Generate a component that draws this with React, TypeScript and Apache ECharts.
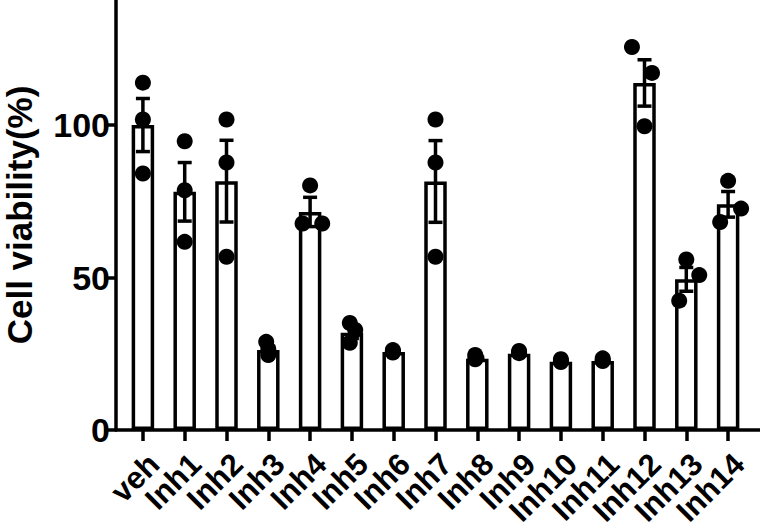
import React, { useEffect, useRef } from "react";
import * as echarts from "echarts";

const categories = ["veh", "Inh1", "Inh2", "Inh3", "Inh4", "Inh5", "Inh6", "Inh7", "Inh8", "Inh9", "Inh10", "Inh11", "Inh12", "Inh13", "Inh14"];
const means = [100, 78.1, 81.6, 26.2, 71.5, 31.9, 25.6, 81.5, 23.4, 25.0, 22.4, 22.6, 113.8, 49.4, 74.0];
const sems = [8.7, 9.6, 13.4, 1.2, 4.8, 1.9, 0.3, 13.4, 0.4, 0.2, 0.3, 0.3, 7.6, 3.9, 4.2];
const replicate1 = [113.9, 94.7, 101.8, 28.9, 80.2, 35.1, 26.2, 101.8, 24.6, 25.9, 23.2, 23.5, 125.6, 55.9, 81.7];
const replicate2 = [101.8, 78.6, 87.7, 26.5, 67.7, 32.8, 25.8, 87.7, 23.8, 25.5, 22.6, 22.9, 117.1, 50.8, 72.6];
const replicate3 = [84.1, 61.7, 56.8, 24.6, 67.7, 28.6, 25.4, 56.8, 23.2, 25.2, 22.3, 22.6, 99.6, 42.4, 68.2];
// horizontal jitter of each replicate dot, in category units
const jitter1 = [0, 0, 0, -0.05, 0, -0.05, -0.02, 0, -0.05, 0, 0, 0, -0.3, 0, 0];
const jitter2 = [0, 0, 0, 0, 0.29, 0.08, -0.02, 0, -0.03, 0, 0, 0, 0.18, 0.31, 0.31];
const jitter3 = [0, 0, 0, 0, -0.18, -0.05, -0.02, 0, -0.05, 0, 0, 0, 0, -0.17, -0.19];
const yTicks = [0, 50, 100];

const FONT = "Liberation Sans, Arial, sans-serif";
const LW = 3.5;

export default function App() {
  const ref = useRef<HTMLDivElement>(null);
  useEffect(() => {
    if (!ref.current) return;
    const chart = echarts.init(ref.current, undefined, { renderer: "svg" });
    const dots: number[][] = [];
    [
      [replicate1, jitter1],
      [replicate2, jitter2],
      [replicate3, jitter3],
    ].forEach(([vals, jit]) => {
      vals.forEach((v, i) => dots.push([i + jit[i], v]));
    });
    const errData = means.map((m, i) => [i, m, sems[i]]);
    chart.setOption({
      animation: false,
      grid: [
        { left: 122, right: 11, top: 0, bottom: 101, outerBoundsMode: "none", containLabel: false },
        { left: 116, right: 0, top: 0, bottom: 101, outerBoundsMode: "none", containLabel: false },
      ],
      xAxis: [
        {
          type: "category",
          gridIndex: 0,
          data: categories,
          axisLine: { show: false },
          axisTick: { show: true, alignWithLabel: true, length: 11, lineStyle: { color: "#000", width: LW } },
          axisLabel: {
            rotate: 45,
            interval: 0,
            margin: 18,
            verticalAlign: "top",
            color: "#000",
            fontFamily: FONT,
            fontWeight: "bold",
            fontSize: 31,
          },
        },
        {
          type: "value",
          gridIndex: 1,
          min: 0,
          max: 1,
          axisLine: { show: true, lineStyle: { color: "#000", width: LW } },
          axisTick: { show: false },
          axisLabel: { show: false },
          splitLine: { show: false },
        },
        {
          type: "value",
          gridIndex: 0,
          min: -0.5,
          max: 14.5,
          show: false,
        },
      ],
      yAxis: [
        {
          type: "value",
          gridIndex: 0,
          min: 0,
          max: 141,
          offset: 6,
          name: "Cell viability(%)",
          nameLocation: "middle",
          nameGap: 79,
          nameTextStyle: { color: "#000", fontFamily: FONT, fontWeight: "bold", fontSize: 35 },
          axisLine: { show: true, onZero: false, lineStyle: { color: "#000", width: LW } },
          axisTick: { show: true, length: 12, customValues: yTicks, lineStyle: { color: "#000", width: LW } },
          axisLabel: {
            customValues: yTicks,
            margin: 6,
            color: "#000",
            fontFamily: FONT,
            fontWeight: "bold",
            fontSize: 34,
          },
          splitLine: { show: false },
        },
        { type: "value", gridIndex: 1, show: false, min: 0, max: 1 },
      ],
      series: [
        {
          type: "bar",
          xAxisIndex: 0,
          yAxisIndex: 0,
          data: means,
          barWidth: 22.5,
          itemStyle: { color: "#fff", borderColor: "#000", borderWidth: LW },
          z: 2,
        },
        {
          type: "custom",
          xAxisIndex: 0,
          yAxisIndex: 0,
          data: errData,
          z: 3,
          renderItem: (params: any, api: any) => {
            const x = api.value(0);
            const m = api.value(1);
            const e = api.value(2);
            const top = api.coord([x, m + e]);
            const bot = api.coord([x, m - e]);
            const half = 7;
            const style = { stroke: "#000", lineWidth: LW };
            return {
              type: "group",
              children: [
                { type: "line", shape: { x1: top[0], y1: top[1], x2: bot[0], y2: bot[1] }, style },
                { type: "line", shape: { x1: top[0] - half, y1: top[1], x2: top[0] + half, y2: top[1] }, style },
                { type: "line", shape: { x1: bot[0] - half, y1: bot[1], x2: bot[0] + half, y2: bot[1] }, style },
              ],
            };
          },
        },
        {
          type: "scatter",
          xAxisIndex: 2,
          yAxisIndex: 0,
          data: dots,
          symbol: "circle",
          symbolSize: 16,
          itemStyle: { color: "#000", opacity: 1 },
          z: 4,
        },
      ],
    });
    return () => chart.dispose();
  }, []);
  return <div ref={ref} style={{ width: 760, height: 531, position: "absolute", left: 0, top: 0 }} />;
}
